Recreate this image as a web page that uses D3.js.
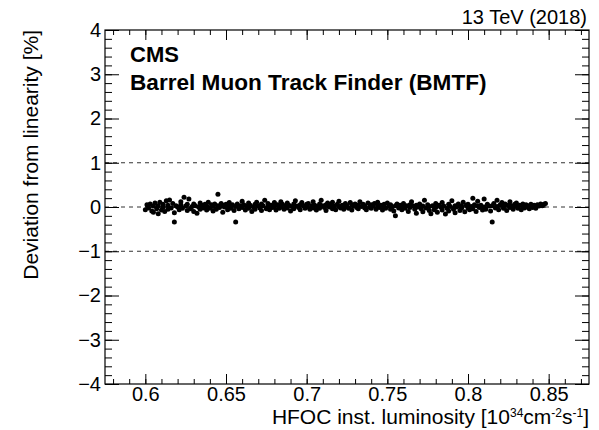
<!DOCTYPE html>
<html lang="en">
<head>
<meta charset="utf-8">
<title>BMTF linearity</title>
<script src="https://cdn.jsdelivr.net/npm/d3@7"></script>
<style>
  html, body { margin: 0; padding: 0; background: #fff; }
  svg { display: block; font-family: "Liberation Sans", Arial, sans-serif; }
  .axis path { display: none; }
  .axis line { stroke: #000; stroke-width: 1; }
  .axis text { font-size: 20px; fill: #000; }
</style>
</head>
<body>
<script>
// x ticks, y ticks
let xMajor = [0.6, 0.65, 0.7, 0.75, 0.8, 0.85];
let yMajor = [-4, -3, -2, -1, 0, 1, 2, 3, 4];
let refLines = [-1, 0, 1];
let fitLine = [[0.6, 0.0], [0.848, 0.0]];

// [inst. luminosity, deviation %]
let points = [
  [0.600,-0.06],[0.601,0.05],[0.602,-0.02],[0.603,0.07],[0.604,-0.09],[0.605,0.02],[0.605,-0.12],[0.606,0.09],
  [0.607,-0.04],[0.608,0.03],[0.608,-0.15],[0.609,0.11],[0.610,-0.07],[0.611,0.06],[0.611,0.00],[0.612,-0.10],
  [0.613,0.14],[0.614,0.04],[0.614,-0.05],[0.615,0.16],[0.616,-0.02],[0.617,0.08],[0.618,-0.34],[0.618,-0.13],
  [0.619,0.03],[0.620,0.00],[0.621,-0.06],[0.622,0.05],[0.622,0.12],[0.623,-0.03],[0.624,0.22],[0.625,0.02],
  [0.626,-0.08],[0.626,0.06],[0.627,0.18],[0.628,-0.04],[0.629,0.01],[0.630,-0.10],[0.630,0.07],[0.631,0.03],
  [0.632,-0.14],[0.633,0.00],[0.634,0.09],[0.634,-0.05],[0.635,0.04],[0.636,-0.02],[0.637,0.06],[0.638,-0.07],
  [0.638,0.02],[0.639,0.11],[0.640,-0.03],[0.641,0.05],[0.642,-0.09],[0.642,0.01],[0.643,0.07],[0.644,-0.05],
  [0.645,0.29],[0.645,0.03],[0.646,-0.01],[0.647,0.08],[0.648,-0.12],[0.648,0.04],[0.649,0.00],[0.650,0.06],
  [0.651,-0.06],[0.652,0.02],[0.652,0.10],[0.653,-0.03],[0.654,0.05],[0.655,-0.08],[0.656,-0.34],[0.656,0.01],
  [0.657,0.07],[0.658,-0.04],[0.659,0.03],[0.660,0.13],[0.660,-0.01],[0.661,0.05],[0.662,-0.07],[0.663,0.02],
  [0.664,0.09],[0.664,-0.03],[0.665,0.04],[0.666,-0.10],[0.667,0.00],[0.668,0.06],[0.668,-0.05],[0.669,0.11],
  [0.670,0.02],[0.671,-0.02],[0.672,0.07],[0.672,-0.08],[0.673,0.03],[0.674,0.15],[0.675,-0.04],[0.676,0.01],
  [0.676,0.08],[0.677,-0.06],[0.678,0.04],[0.679,-0.01],[0.680,0.10],[0.680,0.02],[0.681,-0.07],[0.682,0.05],
  [0.683,-0.03],[0.684,0.12],[0.684,0.00],[0.685,0.06],[0.686,-0.05],[0.687,0.03],[0.688,0.09],[0.688,-0.02],
  [0.689,0.04],[0.690,-0.09],[0.691,0.01],[0.692,0.07],[0.692,-0.04],[0.693,0.14],[0.694,0.02],[0.695,-0.01],
  [0.696,0.05],[0.696,-0.06],[0.697,0.10],[0.698,0.03],[0.699,-0.03],[0.700,0.06],[0.700,0.00],[0.701,0.08],
  [0.702,-0.05],[0.703,0.02],[0.704,0.12],[0.704,-0.02],[0.705,0.04],[0.706,-0.07],[0.707,0.01],[0.708,0.07],
  [0.708,-0.03],[0.709,0.15],[0.710,0.03],[0.711,-0.01],[0.712,0.05],[0.712,-0.08],[0.713,0.09],[0.714,0.00],
  [0.715,0.04],[0.716,-0.04],[0.716,0.11],[0.717,0.02],[0.718,-0.06],[0.719,0.06],[0.720,0.01],[0.720,0.13],
  [0.721,-0.02],[0.722,0.04],[0.723,-0.05],[0.724,0.08],[0.724,0.00],[0.725,0.03],[0.726,-0.03],[0.727,0.10],
  [0.728,0.05],[0.728,-0.07],[0.729,0.02],[0.730,0.07],[0.731,-0.01],[0.732,0.04],[0.732,-0.04],[0.733,0.12],
  [0.734,0.01],[0.735,0.06],[0.736,-0.02],[0.736,0.03],[0.737,-0.06],[0.738,0.09],[0.739,0.00],[0.740,0.05],
  [0.740,-0.03],[0.741,0.02],[0.742,0.08],[0.743,-0.05],[0.744,0.03],[0.744,0.11],[0.745,-0.01],[0.746,0.04],
  [0.747,-0.07],[0.748,0.06],[0.748,0.01],[0.749,-0.03],[0.750,0.09],[0.751,0.02],[0.752,-0.05],[0.752,0.05],
  [0.753,0.00],[0.754,-0.09],[0.755,-0.20],[0.755,0.03],[0.756,0.07],[0.757,-0.02],[0.758,0.04],[0.759,-0.06],
  [0.760,0.01],[0.760,0.08],[0.761,-0.03],[0.762,0.03],[0.763,-0.10],[0.764,0.05],[0.764,-0.01],[0.765,0.12],
  [0.766,0.02],[0.767,-0.05],[0.768,-0.14],[0.768,0.04],[0.769,0.00],[0.770,0.07],[0.771,-0.04],[0.772,-0.11],
  [0.772,0.02],[0.773,0.15],[0.774,-0.02],[0.775,0.05],[0.776,-0.08],[0.776,0.01],[0.777,-0.15],[0.778,0.03],
  [0.779,-0.06],[0.780,0.08],[0.780,-0.01],[0.781,-0.12],[0.782,0.04],[0.783,0.00],[0.784,-0.07],[0.784,0.10],
  [0.785,0.02],[0.786,-0.16],[0.787,-0.03],[0.788,0.06],[0.788,-0.09],[0.789,0.01],[0.790,0.14],[0.791,-0.05],
  [0.792,0.03],[0.792,-0.13],[0.793,0.00],[0.794,0.07],[0.795,-0.08],[0.796,0.02],[0.796,-0.03],[0.797,0.11],
  [0.798,-0.11],[0.799,0.04],[0.800,-0.02],[0.800,0.06],[0.801,-0.06],[0.802,0.01],[0.803,0.20],[0.803,-0.04],
  [0.804,0.05],[0.805,-0.10],[0.806,0.02],[0.806,0.13],[0.807,-0.01],[0.808,0.04],[0.809,-0.07],[0.810,0.18],
  [0.810,0.00],[0.811,-0.05],[0.812,0.06],[0.813,0.02],[0.814,-0.09],[0.815,-0.34],[0.815,0.03],[0.816,0.08],
  [0.817,-0.02],[0.818,0.15],[0.818,0.01],[0.819,-0.06],[0.820,0.05],[0.821,0.10],[0.822,-0.03],[0.822,0.02],
  [0.823,0.07],[0.824,-0.08],[0.825,0.04],[0.826,0.12],[0.826,-0.01],[0.827,0.03],[0.828,-0.05],[0.829,0.06],
  [0.830,0.01],[0.830,0.09],[0.831,-0.03],[0.832,0.04],[0.833,-0.06],[0.834,0.02],[0.834,0.07],[0.835,-0.02],
  [0.836,0.05],[0.837,0.00],[0.838,-0.04],[0.838,0.03],[0.839,0.06],[0.840,-0.01],[0.841,0.04],[0.842,0.01],
  [0.842,-0.03],[0.843,0.05],[0.844,0.02],[0.845,0.07],[0.846,0.03],[0.847,0.06],[0.848,0.08]
];

let w = 599, h = 430;
let padL = 105, padR = 589, padT = 30, padB = 384;

let svg = d3.select("body").append("svg")
  .attr("width", w)
  .attr("height", h);

let x = d3.scaleLinear().domain([0.575, 0.875]).range([padL, padR]);
let y = d3.scaleLinear().domain([-4, 4]).range([padB, padT]);

// minor tick values
let xMinor = d3.range(58, 88).map(d => d / 100).filter(d => d >= 0.575 && d <= 0.875);
let yMinor = d3.range(-20, 21).map(d => d / 5);

// reference dashed lines
svg.append("g").selectAll("line")
  .data(refLines)
  .enter()
  .append("line")
  .attr("x1", padL).attr("x2", padR)
  .attr("y1", d => y(d)).attr("y2", d => y(d))
  .attr("stroke", "#333")
  .attr("stroke-width", 1)
  .attr("stroke-dasharray", "4,4");

// minor ticks (no labels)
svg.append("g").attr("class", "axis").attr("transform", "translate(0," + padB + ")")
  .call(d3.axisBottom(x).tickValues(xMinor).tickSize(-5).tickFormat(""));
svg.append("g").attr("class", "axis").attr("transform", "translate(0," + padT + ")")
  .call(d3.axisTop(x).tickValues(xMinor).tickSize(-5).tickFormat(""));
svg.append("g").attr("class", "axis").attr("transform", "translate(" + padL + ",0)")
  .call(d3.axisLeft(y).tickValues(yMinor).tickSize(-7).tickFormat(""));
svg.append("g").attr("class", "axis").attr("transform", "translate(" + padR + ",0)")
  .call(d3.axisRight(y).tickValues(yMinor).tickSize(-7).tickFormat(""));

// major ticks
svg.append("g").attr("class", "axis").attr("transform", "translate(0," + padB + ")")
  .call(d3.axisBottom(x).tickValues(xMajor).tickSize(-10).tickPadding(3).tickFormat(d3.format("")));
svg.append("g").attr("class", "axis").attr("transform", "translate(0," + padT + ")")
  .call(d3.axisTop(x).tickValues(xMajor).tickSize(-10).tickFormat(""));
svg.append("g").attr("class", "axis").attr("transform", "translate(" + padL + ",0)")
  .call(d3.axisLeft(y).tickValues(yMajor).tickSize(-14).tickPadding(4)
    .tickFormat(d => d < 0 ? "\u2212" + Math.abs(d) : d));
svg.append("g").attr("class", "axis").attr("transform", "translate(" + padR + ",0)")
  .call(d3.axisRight(y).tickValues(yMajor).tickSize(-14).tickFormat(""));

// frame
svg.append("rect")
  .attr("x", padL).attr("y", padT)
  .attr("width", padR - padL).attr("height", padB - padT)
  .attr("fill", "none")
  .attr("stroke", "#000")
  .attr("stroke-width", 1.2);

// fit line
svg.append("path")
  .datum(fitLine)
  .attr("d", d3.line().x(d => x(d[0])).y(d => y(d[1])))
  .attr("stroke", "#000")
  .attr("stroke-width", 1.5)
  .attr("fill", "none");

// data points
svg.append("g").selectAll("circle")
  .data(points)
  .enter()
  .append("circle")
  .attr("cx", d => x(d[0]))
  .attr("cy", d => y(d[1]))
  .attr("r", 2.5)
  .attr("fill", "#000");

// texts
svg.append("text")
  .attr("x", 130).attr("y", 62)
  .attr("font-size", "22px").attr("font-weight", "bold")
  .text("CMS");
svg.append("text")
  .attr("x", 130).attr("y", 90)
  .attr("font-size", "22.6px").attr("font-weight", "bold")
  .text("Barrel Muon Track Finder (BMTF)");
svg.append("text")
  .attr("x", 587).attr("y", 24)
  .attr("font-size", "20px").attr("text-anchor", "end")
  .text("13 TeV (2018)");

svg.append("text")
  .attr("transform", "translate(38," + padT + ") rotate(-90)")
  .attr("font-size", "21px").attr("text-anchor", "end")
  .text("Deviation from linearity [%]");

let xt = svg.append("text")
  .attr("x", 589).attr("y", 424)
  .attr("font-size", "21px").attr("text-anchor", "end");
xt.append("tspan").text("HFOC inst. luminosity [10");
xt.append("tspan").attr("font-size", "12px").attr("dy", -7).text("34");
xt.append("tspan").attr("dy", 7).text("cm");
xt.append("tspan").attr("font-size", "12px").attr("dy", -7).text("-2");
xt.append("tspan").attr("dy", 7).text("s");
xt.append("tspan").attr("font-size", "12px").attr("dy", -7).text("-1");
xt.append("tspan").attr("dy", 7).text("]");
</script>
</body>
</html>
